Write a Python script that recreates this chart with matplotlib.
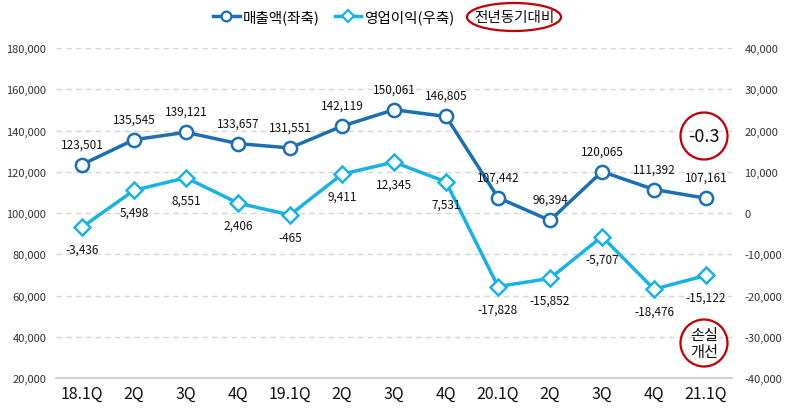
import matplotlib
matplotlib.use("Agg")
import matplotlib.pyplot as plt
from matplotlib.lines import Line2D
from matplotlib.patches import Ellipse
from matplotlib.ticker import FuncFormatter

plt.rcParams['font.family'] = ['Noto Sans CJK KR', 'DejaVu Sans']

categories = ["18.1Q", "2Q", "3Q", "4Q", "19.1Q", "2Q", "3Q", "4Q",
              "20.1Q", "2Q", "3Q", "4Q", "21.1Q"]
sales = [123501, 135545, 139121, 133657, 131551, 142119, 150061, 146805,
         107442, 96394, 120065, 111392, 107161]
op_profit = [-3436, 5498, 8551, 2406, -465, 9411, 12345, 7531,
             -17828, -15852, -5707, -18476, -15122]
left_ticks = list(range(20000, 180001, 20000))
right_ticks = list(range(-40000, 40001, 10000))

sales_color = "#1B6FB5"
op_color = "#19B2E6"
red = "#C00000"
W, H = 788, 410

fig = plt.figure(figsize=(W / 100, H / 100), dpi=100)
ax1 = fig.add_axes([56 / W, 1 - 379 / H, (732 - 56) / W, (379 - 49) / H])
ax2 = ax1.twinx()

x = list(range(len(categories)))
ax1.plot(x, sales, color=sales_color, lw=2.5, marker='o', ms=9.5,
         mfc='white', mec=sales_color, mew=1.8, zorder=3)
ax2.plot(x, op_profit, color=op_color, lw=2.5, marker='D', ms=8.5,
         mfc='white', mec=op_color, mew=1.8, zorder=3)

for xi, v in zip(x, sales):
    ax1.annotate(f"{v:,}", (xi, v), xytext=(0, 15), textcoords='offset points',
                 ha='center', va='center', fontsize=8.5, color='#111111')
for xi, v in zip(x, op_profit):
    ax2.annotate(f"{v:,}", (xi, v), xytext=(0, -16), textcoords='offset points',
                 ha='center', va='center', fontsize=8.5, color='#111111')

ax1.set_xlim(-0.5, len(categories) - 0.5)
ax1.set_ylim(20000, 180000)
ax2.set_ylim(-40000, 40000)
ax1.set_yticks(left_ticks)
ax2.set_yticks(right_ticks)
fmt = FuncFormatter(lambda v, p: f"{int(v):,}")
ax1.yaxis.set_major_formatter(fmt)
ax2.yaxis.set_major_formatter(fmt)
ax1.set_xticks(x)
ax1.set_xticklabels(categories, fontsize=11.5, color='#111111')

ax1.yaxis.grid(True, color='#D6D6D6', ls=(0, (4, 3)), lw=1.0)
ax1.set_axisbelow(True)
for ax in (ax1, ax2):
    for s in ('top', 'left', 'right'):
        ax.spines[s].set_visible(False)
    ax.spines['bottom'].set_color('#D0D0D0')
    ax.spines['bottom'].set_linewidth(1.2)
    ax.tick_params(axis='y', length=0, labelsize=8, labelcolor='#333333')
ax1.tick_params(axis='x', length=0, pad=5)
ax1.tick_params(axis='y', pad=7)
ax2.tick_params(axis='y', pad=9)

handles = [
    Line2D([], [], color=sales_color, lw=2.5, marker='o', ms=7, mfc='white',
           mec=sales_color, mew=1.6),
    Line2D([], [], color=op_color, lw=2.5, marker='D', ms=6, mfc='white',
           mec=op_color, mew=1.6),
]
fig.legend(handles, ["매출액(좌축)", "영업이익(우축)"], loc='center',
           bbox_to_anchor=(334 / W, 1 - 18 / H), ncol=2, frameon=False,
           fontsize=10.5, handlelength=1.8, handletextpad=0.25,
           columnspacing=1.0, borderpad=0.2)
fig.text(514 / W, 1 - 18 / H, "전년동기대비", ha='center', va='center',
         fontsize=10.5, color='#111111')
fig.patches.append(Ellipse((514 / W, 1 - 18 / H), 94 / W, 28 / H,
                           transform=fig.transFigure, fill=False,
                           ec=red, lw=1.6))

fig.patches.append(Ellipse((704 / W, 1 - 137 / H), 47 / W, 47 / H,
                           transform=fig.transFigure, fill=False, ec=red, lw=1.6))
fig.text(704 / W, 1 - 137 / H, "-0.3", ha='center', va='center',
         fontsize=13, color='#111111')
fig.patches.append(Ellipse((704 / W, 1 - 344 / H), 47 / W, 47 / H,
                           transform=fig.transFigure, fill=False, ec=red, lw=1.6))
fig.text(704 / W, 1 - 344 / H, "손실\n개선", ha='center', va='center',
         fontsize=11, color='#111111', linespacing=1.0)

fig.savefig("out.png", dpi=100)
